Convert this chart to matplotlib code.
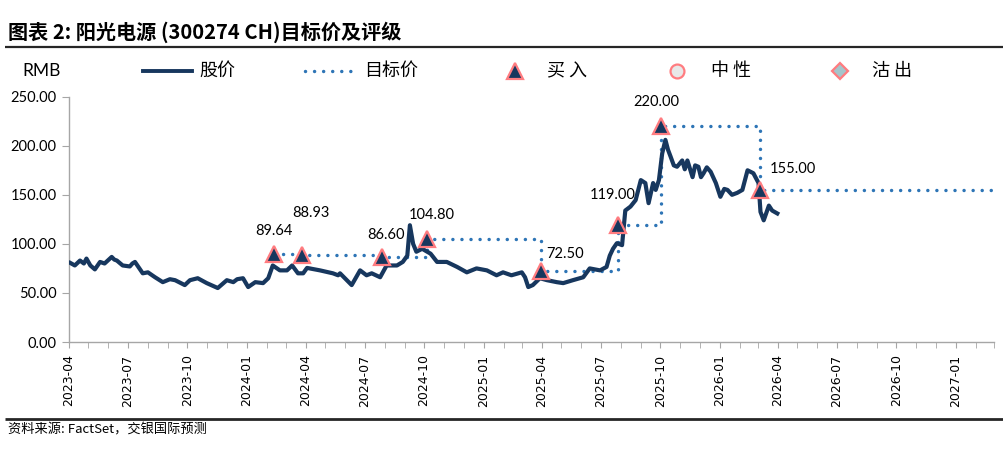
import matplotlib
matplotlib.use("Agg")
import matplotlib.pyplot as plt
import matplotlib.dates as mdates
import numpy as np
import pandas as pd
from matplotlib.lines import Line2D

# ---------------- data ----------------
price_dates = [
    "2023-04-03", "2023-04-10", "2023-04-18", "2023-04-24", "2023-04-28", "2023-05-04", "2023-05-11", "2023-05-19",
    "2023-05-26", "2023-06-06", "2023-06-10", "2023-06-14", "2023-06-23", "2023-07-04", "2023-07-08", "2023-07-12", "2023-07-24",
    "2023-08-01", "2023-08-12", "2023-08-24", "2023-09-04", "2023-09-12", "2023-09-27",
    "2023-10-05", "2023-10-17", "2023-10-31", "2023-11-17", "2023-12-01", "2023-12-11",
    "2023-12-17", "2023-12-26", "2024-01-03", "2024-01-14", "2024-01-26", "2024-02-03",
    "2024-02-10", "2024-02-21", "2024-03-03", "2024-03-11", "2024-03-20", "2024-03-28",
    "2024-04-03", "2024-04-23", "2024-05-13", "2024-05-21", "2024-05-24", "2024-06-11",
    "2024-06-24", "2024-07-04", "2024-07-12", "2024-07-25", "2024-08-04", "2024-08-20",
    "2024-08-29", "2024-09-05", "2024-09-09", "2024-09-14", "2024-09-19", "2024-09-28",
    "2024-10-11", "2024-10-21", "2024-11-05", "2024-11-21", "2024-12-06", "2024-12-21",
    "2025-01-06", "2025-01-21", "2025-01-31", "2025-02-13", "2025-03-01", "2025-03-06",
    "2025-03-11", "2025-03-18", "2025-03-29", "2025-04-09", "2025-04-24", "2025-05-04",
    "2025-05-19", "2025-06-04", "2025-06-14", "2025-06-30", "2025-07-10", "2025-07-15",
    "2025-07-20", "2025-07-26", "2025-08-03", "2025-08-08", "2025-08-16", "2025-08-24",
    "2025-09-01", "2025-09-08", "2025-09-13", "2025-09-20", "2025-09-24", "2025-09-29",
    "2025-10-04", "2025-10-09", "2025-10-13", "2025-10-17", "2025-10-22", "2025-10-27", "2025-11-04", "2025-11-08", "2025-11-12",
    "2025-11-20", "2025-11-24", "2025-11-29", "2025-12-03", "2025-12-07", "2025-12-12", "2025-12-18", "2025-12-26", "2026-01-02",
    "2026-01-08", "2026-01-13", "2026-01-20", "2026-01-28", "2026-02-05", "2026-02-13", "2026-02-22", "2026-03-02",
    "2026-03-05", "2026-03-10", "2026-03-18", "2026-03-23", "2026-03-31",
]
price_values = [
    80.6, 78, 83, 80, 85, 78, 74, 81.6,
    80, 86.7, 84, 83, 78, 77, 80, 81.6, 70,
    71, 66, 61, 64, 63, 58,
    63, 65, 60, 55, 63, 61,
    64, 65, 56, 61, 60, 65,
    78, 73, 73, 78, 70, 70,
    75.5, 73, 70, 68, 70, 58,
    73, 68, 70, 66, 78, 78,
    81.6, 88, 119, 100, 92, 95,
    90, 81.6, 81.6, 76.5, 71, 75,
    73, 68, 71, 68, 71, 66,
    56, 58, 65, 63, 61, 60,
    63, 66, 75, 73, 76.5, 88,
    95, 100.7, 98.7, 134, 138, 144.6,
    165, 162, 141.5, 162, 155, 165,
    192, 206, 196, 189, 180, 178.6, 185, 176, 185,
    168, 180, 178.6, 168, 172, 178, 173.5, 162, 148,
    156, 155, 150, 152, 155, 175, 172, 162,
    132.6, 124, 139, 134, 131,
]

target_dates = ["2024-02-12", "2024-03-26", "2024-07-28", "2024-10-05",
                "2025-03-30", "2025-07-28", "2025-10-02", "2026-03-05"]
target_values = [89.64, 88.93, 86.60, 104.80, 72.50, 119.00, 220.00, 155.00]
target_labels = ["89.64", "88.93", "86.60", "104.80", "72.50", "119.00", "220.00", "155.00"]
target_end_date = "2027-02-25"

y_ticks = [0, 50, 100, 150, 200, 250]

# ---------------- style ----------------
W, H = 1004, 453
fig = plt.figure(figsize=(W / 100, H / 100), dpi=100)
CJK = ["Noto Sans CJK SC", "DejaVu Sans"]
NUM = ["Lato", "DejaVu Sans"]

PRICE_C = "#17375E"
TGT_C = "#2E75B6"
EDGE_C = "#FF7C80"

ax_left, ax_right, ax_top, ax_bot = 69, 994, 96.7, 342
ax = fig.add_axes([ax_left / W, (H - ax_bot) / H, (ax_right - ax_left) / W, (ax_bot - ax_top) / H])

pdates = pd.to_datetime(price_dates)
ax.plot(pdates, price_values, color=PRICE_C, lw=3.0, solid_joinstyle="round", zorder=3)

tdates = list(pd.to_datetime(target_dates)) + [pd.Timestamp(target_end_date)]
tvals = target_values + [target_values[-1]]
ax.step(tdates, tvals, where="post", color=TGT_C, lw=2.5,
        linestyle=(0, (0.01, 2.6)), dash_capstyle="round", zorder=2)

ax.plot(pd.to_datetime(target_dates), target_values, linestyle="none", marker="^",
        markersize=12, markerfacecolor=PRICE_C, markeredgecolor=EDGE_C,
        markeredgewidth=1.6, zorder=5)

offsets = [(0, 23), (9, 42), (4, 22), (5, 24), (25, 17), (-5, 30), (-5, 24), (32, 21)]
for d, v, lab, off in zip(pd.to_datetime(target_dates), target_values, target_labels, offsets):
    ax.annotate(lab, (d, v), xytext=off, textcoords="offset pixels",
                ha="center", va="center", fontsize=10.5, family=NUM, color="#000000")

ax.set_xlim(pd.Timestamp("2023-04-01"), pd.Timestamp("2027-03-01"))
ax.set_ylim(0, 250)
ax.set_yticks(y_ticks)
ax.yaxis.set_major_formatter(matplotlib.ticker.FormatStrFormatter("%.2f"))
ax.xaxis.set_major_locator(mdates.MonthLocator(bymonth=[1, 4, 7, 10]))
ax.xaxis.set_minor_locator(mdates.MonthLocator())
ax.xaxis.set_major_formatter(mdates.DateFormatter("%Y-%m"))
for s in ["top", "right"]:
    ax.spines[s].set_visible(False)
for s in ["left", "bottom"]:
    ax.spines[s].set_color("#A6A6A6")
    ax.spines[s].set_linewidth(1.0)
ax.tick_params(axis="y", direction="out", length=5, color="#A6A6A6", labelsize=10.5, pad=4)
ax.tick_params(axis="x", which="both", direction="out", length=4, color="#A6A6A6",
               labelsize=9, pad=5)
for t in ax.get_yticklabels():
    t.set_family(NUM)
for t in ax.get_xticklabels():
    t.set_rotation(90)
    t.set_family(["DejaVu Sans"])
    t.set_color("#000000")
ax.set_facecolor("none")

# ---------------- overlay (title, legend, source) ----------------
ov = fig.add_axes([0, 0, 1, 1], zorder=-1)
ov.set_xlim(0, W)
ov.set_ylim(H, 0)
ov.axis("off")

ov.text(8, 32, "图表 2: 阳光电源 (300274 CH)目标价及评级", family=CJK, fontsize=14.5,
        fontweight="bold", ha="left", va="center")
ov.plot([5, W], [47, 47], color="#262626", lw=1.6, solid_capstyle="butt")
ov.plot([5, W], [419, 419], color="#262626", lw=2.0, solid_capstyle="butt")
ov.text(8, 430, "资料来源: FactSet，交银国际预测", family=CJK, fontsize=9.5,
        style="italic", ha="left", va="center", color="#000000")

ly = 71
ov.text(22, ly, "RMB", family=NUM, fontsize=12.5, ha="left", va="center")
ov.plot([143, 192], [ly, ly], color=PRICE_C, lw=2.8)
ov.text(199, ly, "股价", family=CJK, fontsize=13, ha="left", va="center")
ov.plot([305, 352], [ly, ly], color=TGT_C, lw=2.5, linestyle=(0, (0.01, 2.6)),
        dash_capstyle="round")
ov.text(364, ly, "目标价", family=CJK, fontsize=13, ha="left", va="center")
ov.plot([515], [ly], marker="^", markersize=11, markerfacecolor=PRICE_C,
        markeredgecolor=EDGE_C, markeredgewidth=1.6)
ov.text(547, ly, "买 入", family=CJK, fontsize=13, ha="left", va="center")
ov.plot([677], [ly], marker="o", markersize=10, markerfacecolor="#E8E8E8",
        markeredgecolor=EDGE_C, markeredgewidth=1.6)
ov.text(711, ly, "中 性", family=CJK, fontsize=13, ha="left", va="center")
ov.plot([840], [ly], marker="D", markersize=8, markerfacecolor="#A5C5CB",
        markeredgecolor=EDGE_C, markeredgewidth=1.6)
ov.text(872, ly, "沽 出", family=CJK, fontsize=13, ha="left", va="center")

fig.savefig("out.png", dpi=100)
